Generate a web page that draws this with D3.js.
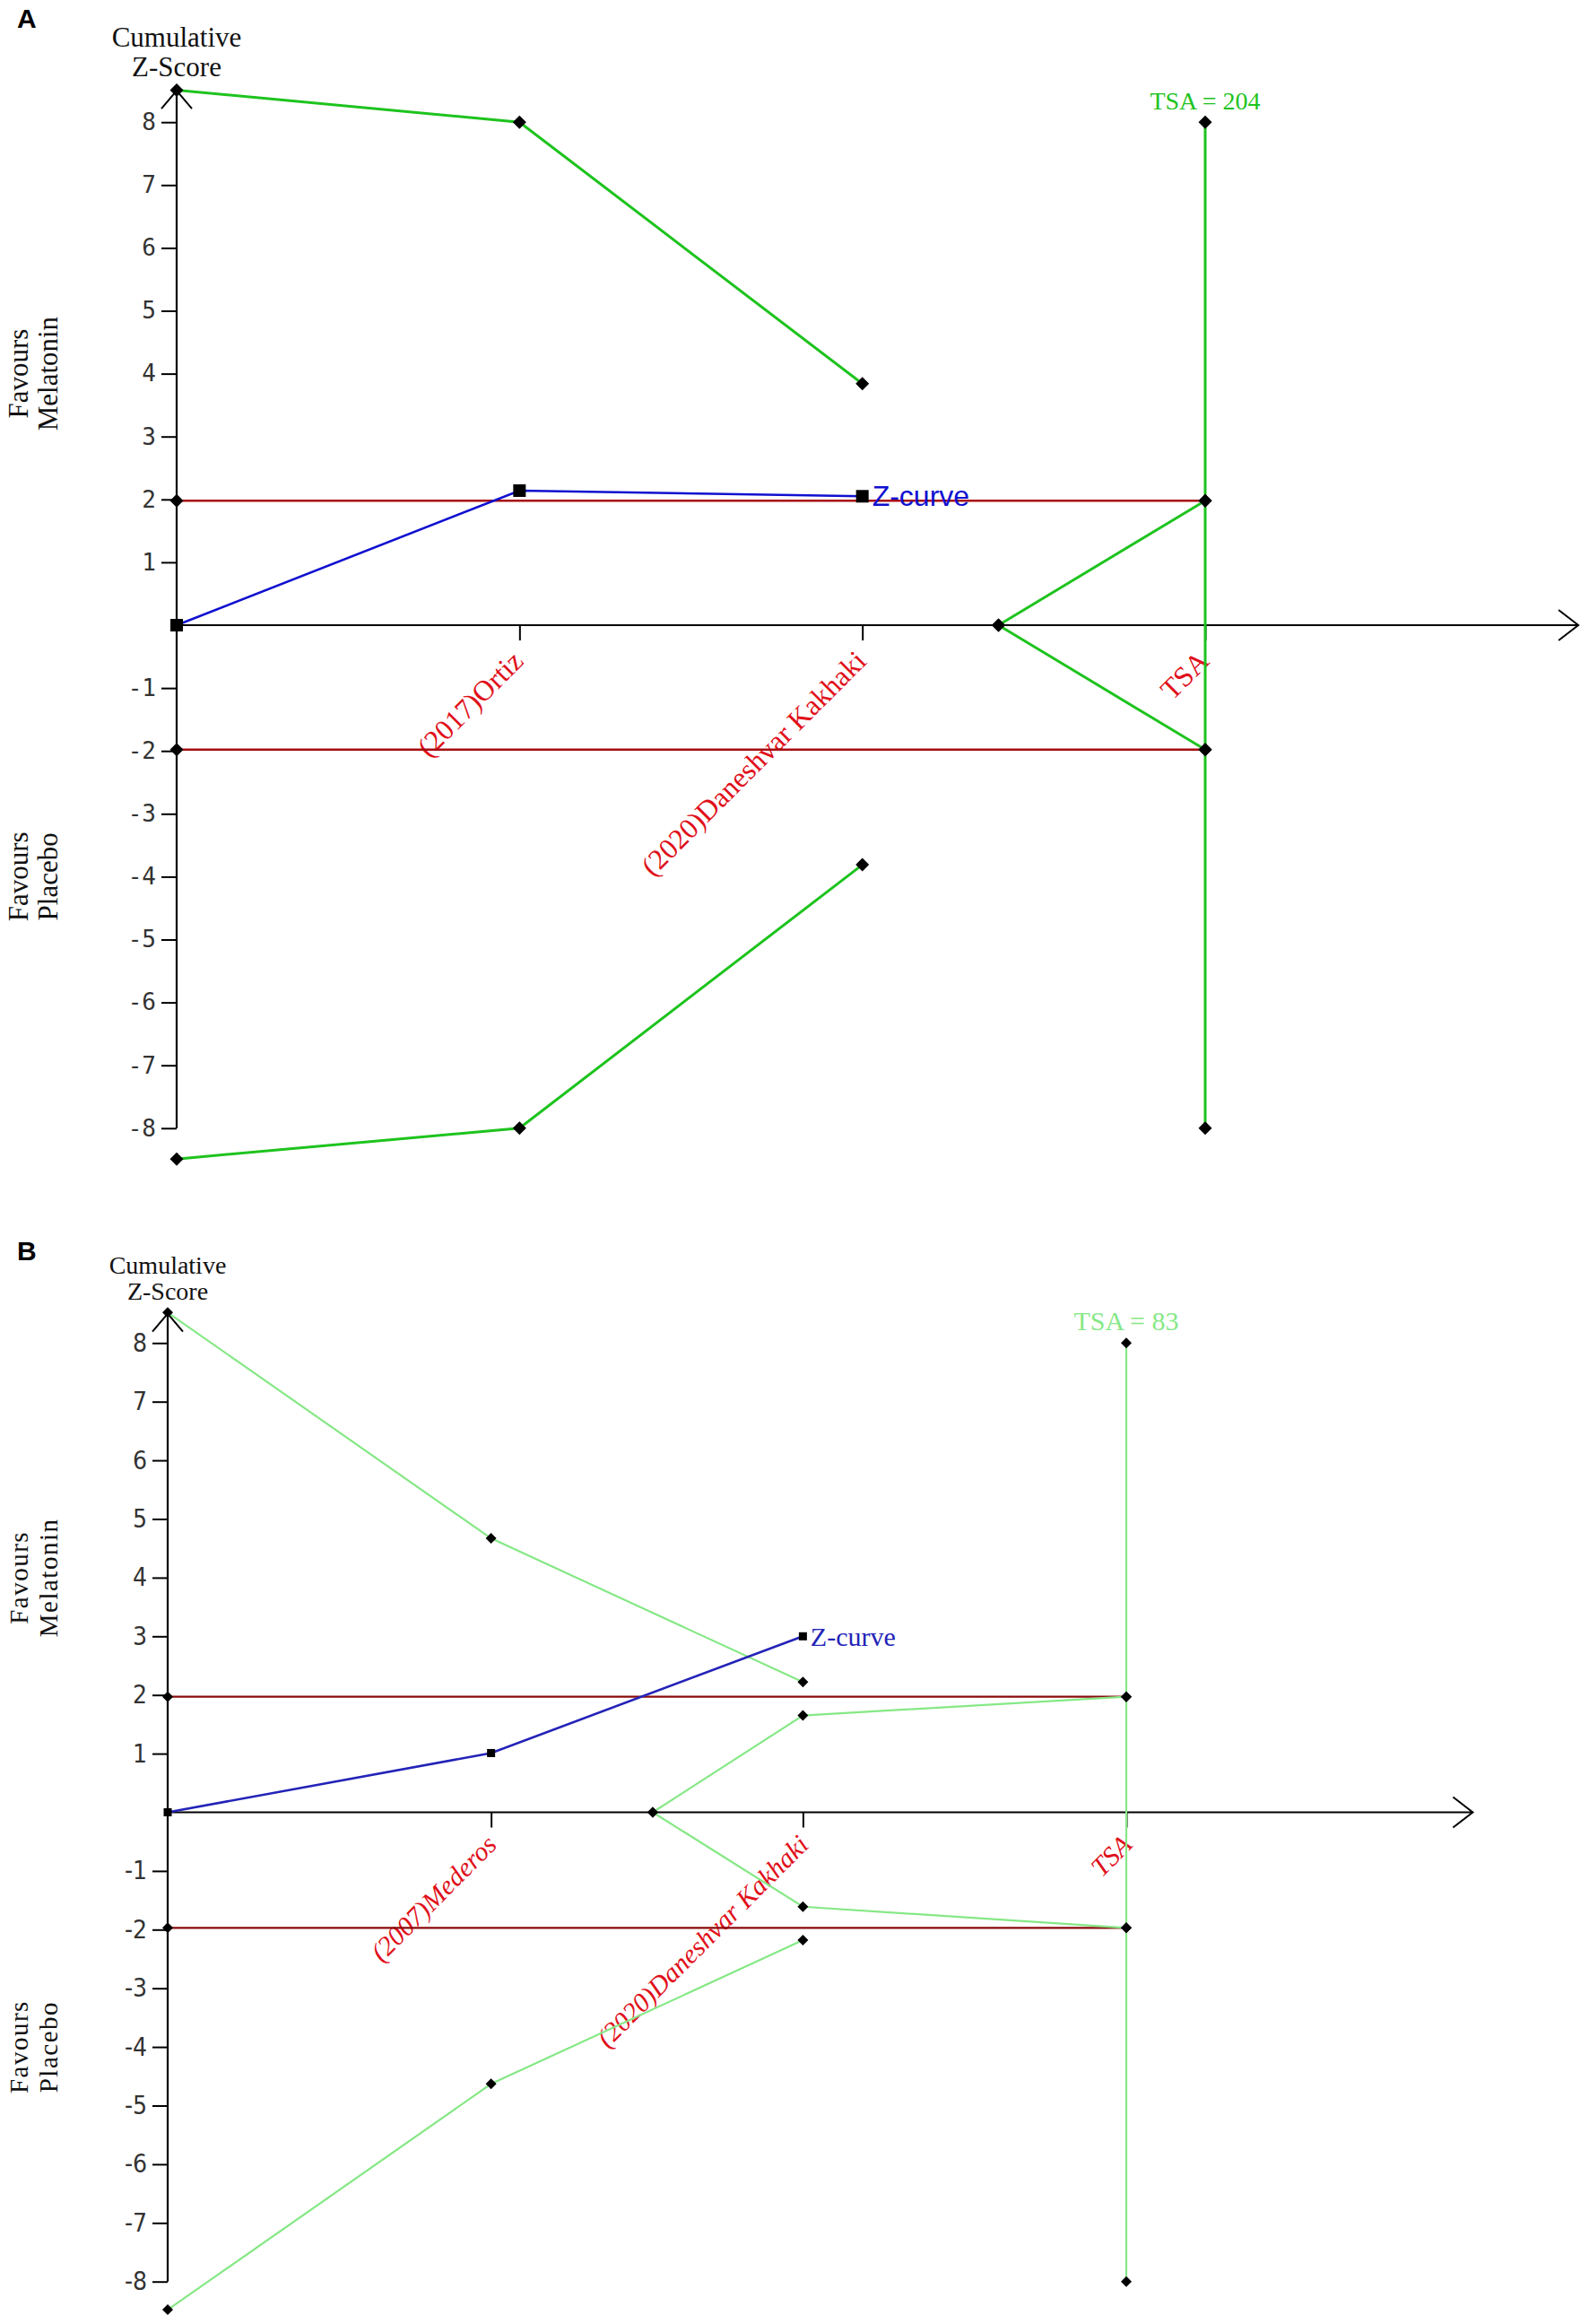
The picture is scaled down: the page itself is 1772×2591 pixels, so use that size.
<!DOCTYPE html>
<html>
<head>
<meta charset="utf-8">
<script src="https://cdn.jsdelivr.net/npm/d3@7/dist/d3.min.js"></script>
<style>
  body { margin:0; background:#fff; }
  svg { display:block; }
</style>
</head>
<body>
<svg></svg>
<script>
// ---- panel A data ----
var studiesA = ["(2017)Ortiz", "(2020)Daneshvar Kakhaki"];
var patientsA = [0, 68, 136];
var zCurveA = [0, 2.14, 2.05];
var upperA = [8.51, 8.0, 3.84];
var lowerA = [-8.49, -8.0, -3.81];
var innerXA = [163, 204];
var innerUpperA = [0, 1.98];
var innerLowerA = [0, -1.98];
var convA = 1.98;
var tsaA = 204;
var xMaxA = 278;

// ---- panel B data ----
var studiesB = ["(2007)Mederos", "(2020)Daneshvar Kakhaki"];
var patientsB = [0, 28, 55];
var zCurveB = [0, 1.01, 3.0];
var upperB = [8.52, 4.67, 2.22];
var lowerB = [-8.48, -4.63, -2.18];
var innerXB = [42, 55, 83];
var innerUpperB = [0, 1.65, 1.97];
var innerLowerB = [0, -1.61, -1.97];
var convB = 1.97;
var tsaB = 83;
var xMaxB = 113;

// shared
var yTicks = [-8, -7, -6, -5, -4, -3, -2, -1, 1, 2, 3, 4, 5, 6, 7, 8];
var tsaTop = 8, tsaBottom = -8, yArrowTop = 8.5;

var svg = d3.select('svg')
            .attr('width', 1772)
            .attr('height', 2591);

var drawPanel = function(p, s)
{
  var x = d3.scaleLinear().domain([0, p.tsa]).range([s.left, s.tsaX]);
  var y = d3.scaleLinear().domain([-8, 8]).range([s.bottomY, s.topY]);
  var g = svg.append('g');
  var line = d3.line().x(function(d){ return x(d[0]); }).y(function(d){ return y(d[1]); });

  // panel letter
  g.append('text').attr('x', 19).attr('y', s.letterY)
   .attr('font-family', 'Liberation Sans, Arial, sans-serif').attr('font-weight', 'bold')
   .attr('font-size', 30).text(p.letter);

  // y axis title
  g.append('text').attr('x', x(0)).attr('y', s.titleY)
   .attr('text-anchor', 'middle').attr('font-family', 'Liberation Serif, serif')
   .attr('font-size', s.titleSize).attr('fill', '#111')
   .selectAll('tspan').data(['Cumulative', 'Z-Score']).enter().append('tspan')
   .attr('x', x(0)).attr('dy', function(d, i){ return i == 0 ? 0 : s.titleSize * 1.05; })
   .text(function(d){ return d; });

  // favours labels
  [[p.favUp, y(4)], [p.favDown, y(-4)]].forEach(function(f)
  {
    var t = g.append('text').attr('transform', 'translate(' + 31 + ',' + f[1] + ') rotate(-90)')
      .attr('text-anchor', 'middle').attr('font-family', 'Liberation Serif, serif')
      .attr('font-size', s.favSize).attr('letter-spacing', s.favSpacing).attr('fill', '#111');
    t.append('tspan').attr('x', 0).attr('y', 0).text('Favours');
    t.append('tspan').attr('x', 0).attr('y', 33).text(f[0]);
  });

  // y axis ticks + labels
  var yAxis = d3.axisLeft(y).tickValues(yTicks).tickSize(17).tickPadding(6)
                .tickFormat(function(d){ return String(d); });
  var ya = g.append('g').attr('transform', 'translate(' + x(0) + ',0)').call(yAxis);
  ya.select('.domain').remove();
  ya.selectAll('line').attr('stroke', '#000').attr('stroke-width', 2);
  ya.selectAll('text').attr('font-family', s.tickFont).attr('font-size', s.tickSize)
    .attr('font-stretch', 'condensed').attr('fill', '#333');

  // y axis line with arrow
  g.append('line').attr('x1', x(0)).attr('x2', x(0)).attr('y1', y(-8)).attr('y2', y(yArrowTop))
   .attr('stroke', '#000').attr('stroke-width', 2.2);
  g.append('path')
   .attr('d', 'M' + (x(0) - 17) + ',' + (y(yArrowTop) + 20) + 'L' + x(0) + ',' + y(yArrowTop) +
               'L' + (x(0) + 17) + ',' + (y(yArrowTop) + 20))
   .attr('fill', 'none').attr('stroke', '#000').attr('stroke-width', 2);

  // x axis (zero line) with ticks and arrow
  var xAxis = d3.axisBottom(x).tickValues(p.patients.slice(1).concat([p.tsa]))
                .tickSize(17).tickFormat('');
  var xa = g.append('g').attr('transform', 'translate(0,' + y(0) + ')').call(xAxis);
  xa.select('.domain').remove();
  xa.selectAll('line').attr('stroke', '#000').attr('stroke-width', 2);
  g.append('line').attr('x1', x(0)).attr('x2', x(p.xMax)).attr('y1', y(0)).attr('y2', y(0))
   .attr('stroke', '#000').attr('stroke-width', 2.2);
  g.append('path')
   .attr('d', 'M' + (x(p.xMax) - 22) + ',' + (y(0) - 17) + 'L' + x(p.xMax) + ',' + y(0) +
               'L' + (x(p.xMax) - 22) + ',' + (y(0) + 17))
   .attr('fill', 'none').attr('stroke', '#000').attr('stroke-width', 2);

  // study labels
  var labelPos = p.patients.slice(1).concat([p.tsa]);
  var labels = p.studies.concat(['TSA']);
  g.selectAll('.study').data(labels).enter().append('text')
   .attr('transform', function(d, i){ return 'translate(' + (x(labelPos[i]) + s.labDx) + ',' + (y(0) + s.labDy) + ') rotate(-45)'; })
   .attr('text-anchor', 'end').attr('font-family', 'Liberation Serif, serif')
   .attr('font-style', s.labStyle).attr('font-size', s.labSize).attr('fill', '#e0101a')
   .text(function(d){ return d; });

  // conventional boundaries
  [p.conv, -p.conv].forEach(function(c)
  {
    g.append('path').attr('d', line([[0, c], [p.tsa, c]]))
     .attr('stroke', s.red).attr('stroke-width', s.redWidth).attr('fill', 'none');
  });

  // monitoring and futility boundaries
  var upper = p.patients.map(function(d, i){ return [d, p.upper[i]]; });
  var lower = p.patients.map(function(d, i){ return [d, p.lower[i]]; });
  var innerU = p.innerX.map(function(d, i){ return [d, p.innerUpper[i]]; });
  var innerL = p.innerX.map(function(d, i){ return [d, p.innerLower[i]]; });
  var tsaLine = [[p.tsa, tsaTop], [p.tsa, tsaBottom]];
  [upper, lower, innerU, innerL, tsaLine].forEach(function(pts)
  {
    g.append('path').attr('d', line(pts)).attr('fill', 'none')
     .attr('stroke', s.green).attr('stroke-width', s.greenWidth);
  });

  // z-curve
  var zPts = p.patients.map(function(d, i){ return [d, p.zCurve[i]]; });
  g.append('path').attr('d', line(zPts)).attr('fill', 'none')
   .attr('stroke', s.blue).attr('stroke-width', s.blueWidth);

  // diamonds
  var r = s.dia;
  var dPts = upper.concat(lower).concat(innerU).concat(innerL)
    .concat([[0, p.conv], [0, -p.conv], [p.tsa, tsaTop], [p.tsa, tsaBottom], [p.tsa, p.conv], [p.tsa, -p.conv]]);
  g.selectAll('.dia').data(dPts).enter().append('path')
   .attr('d', 'M0,' + (-r) + 'L' + r + ',0L0,' + r + 'L' + (-r) + ',0Z')
   .attr('transform', function(d){ return 'translate(' + x(d[0]) + ',' + y(d[1]) + ')'; })
   .attr('fill', '#000');

  // squares
  g.selectAll('.sq').data(zPts).enter().append('rect')
   .attr('x', function(d){ return x(d[0]) - s.sq / 2; })
   .attr('y', function(d){ return y(d[1]) - s.sq / 2; })
   .attr('width', s.sq).attr('height', s.sq).attr('fill', '#000');

  // z-curve label
  var last = zPts[zPts.length - 1];
  g.append('text').attr('x', x(last[0]) + s.sq / 2 + 4).attr('y', y(last[1]))
   .attr('dy', '0.35em').attr('font-family', s.zFont).attr('font-size', s.zSize)
   .attr('fill', s.blue).text('Z-curve');

  // TSA size label
  g.append('text').attr('x', x(p.tsa)).attr('y', y(tsaTop) - 14)
   .attr('text-anchor', 'middle').attr('font-family', 'Liberation Serif, serif')
   .attr('font-size', s.tsaSize).attr('fill', s.tsaColor).text('TSA = ' + p.tsa);
};

drawPanel(
  { letter: 'A', studies: studiesA, patients: patientsA, zCurve: zCurveA, upper: upperA, lower: lowerA,
    innerX: innerXA, innerUpper: innerUpperA, innerLower: innerLowerA, conv: convA, tsa: tsaA, xMax: xMaxA,
    favUp: 'Melatonin', favDown: 'Placebo' },
  { left: 197, tsaX: 1344, topY: 136.2, bottomY: 1257.8, letterY: 31, titleY: 52, titleSize: 31,
    favSize: 31, favSpacing: 0, tickFont: 'DejaVu Sans Mono, monospace', tickSize: 26,
    labDx: 6, labDy: 42, labStyle: 'normal', labSize: 32, red: '#a80d10', redWidth: 2.6,
    green: '#1ec31e', greenWidth: 3, blue: '#1010d0', blueWidth: 2.6, dia: 7.5, sq: 14,
    zFont: 'Liberation Sans, Arial, sans-serif', zSize: 32, tsaSize: 28, tsaColor: '#1ec31e' });

drawPanel(
  { letter: 'B', studies: studiesB, patients: patientsB, zCurve: zCurveB, upper: upperB, lower: lowerB,
    innerX: innerXB, innerUpper: innerUpperB, innerLower: innerLowerB, conv: convB, tsa: tsaB, xMax: xMaxB,
    favUp: 'Melatonin', favDown: 'Placebo' },
  { left: 187, tsaX: 1256, topY: 1497.3, bottomY: 2543.7, letterY: 1405, titleY: 1420, titleSize: 28,
    favSize: 29, favSpacing: 1.5, tickFont: 'Liberation Sans Narrow, DejaVu Sans, sans-serif', tickSize: 28,
    labDx: 8, labDy: 38, labStyle: 'italic', labSize: 30, red: '#8a0a0a', redWidth: 2.2,
    green: '#86e886', greenWidth: 2.2, blue: '#2323b8', blueWidth: 2.6, dia: 6, sq: 9,
    zFont: 'Liberation Serif, serif', zSize: 30, tsaSize: 30, tsaColor: '#86e886' });
</script>
</body>
</html>
